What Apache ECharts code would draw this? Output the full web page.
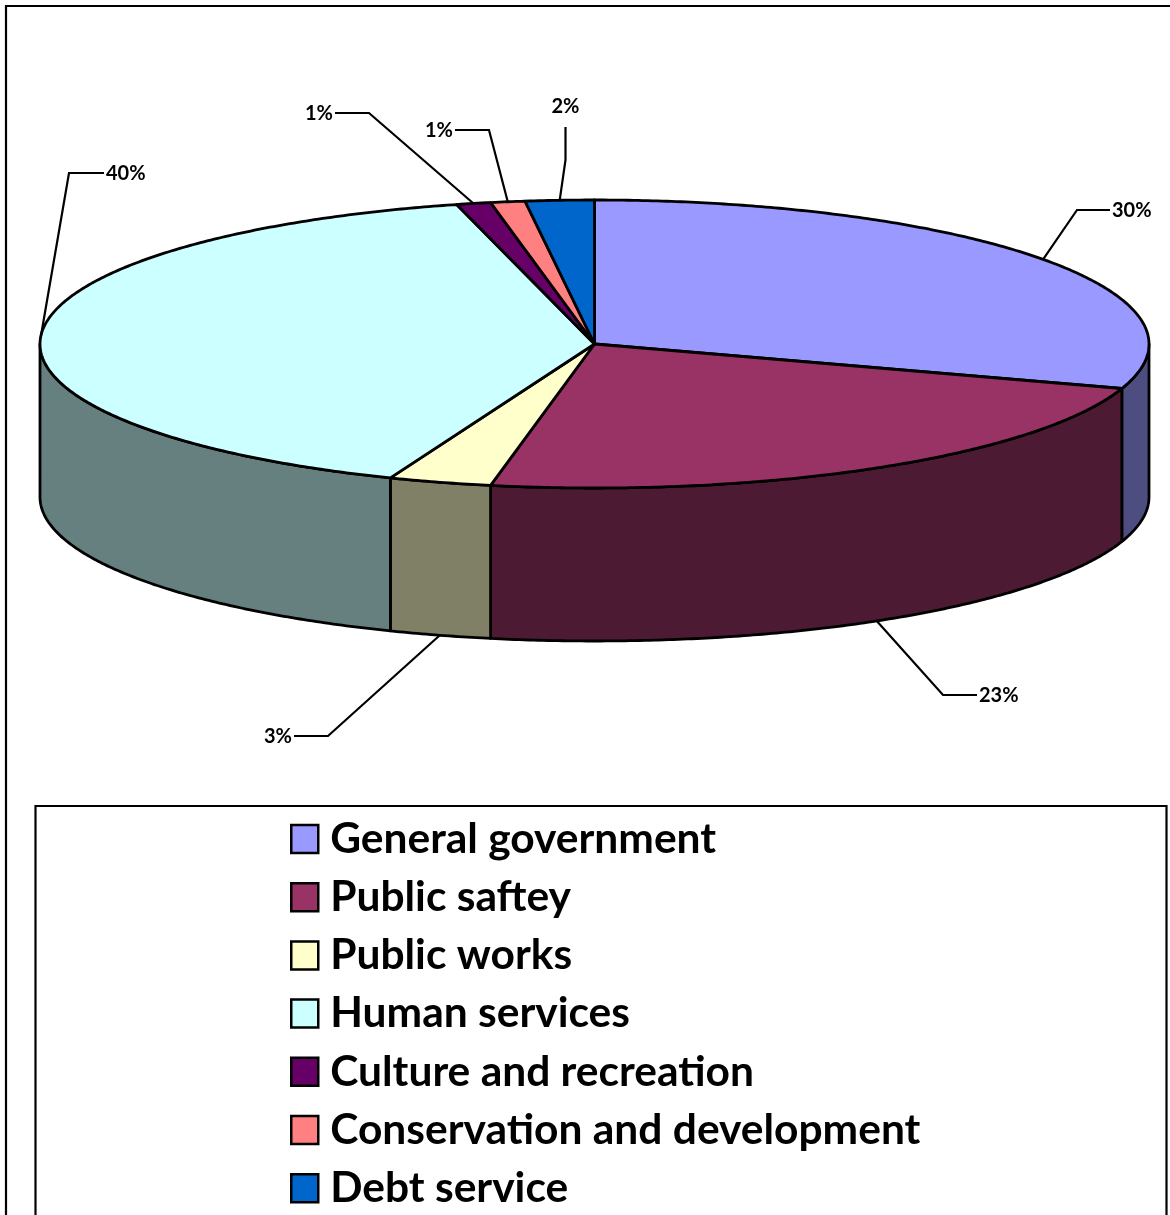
<!DOCTYPE html>
<html>
<head>
<meta charset="utf-8">
<style>html,body{margin:0;padding:0;background:#fff;overflow:hidden}#chart{width:1170px;height:1215px}</style>
<script src="https://cdn.jsdelivr.net/npm/echarts@6/dist/echarts.min.js"></script>
</head>
<body>
<div id="chart"></div>
<script>
// Expenditure shares by function, in percent
const categories = ['General government', 'Public saftey', 'Public works', 'Human services', 'Culture and recreation', 'Conservation and development', 'Debt service'];
const shares = [30, 23, 3, 40, 1, 1, 2];
const topColors = ['#9999FF', '#993366', '#FFFFCC', '#CCFFFF', '#660066', '#FF8080', '#0066CC'];
const wallColors = ['#4D4D80', '#4D1A33', '#808066', '#668080', '#330033', '#804040', '#003366'];

// Geometry of the tilted disc
const disc = { cx: 594.5, cy: 344, rx: 554.5, ry: 144, depth: 153 };

// Leader-line routing: elbow point, free end, and where each label sits
const leaderElbows = [[1077, 210], [943, 695], [328, 736], [69, 173], [369, 113], [489, 130], [565.5, 160]];
const leaderEnds = [[1110, 210], [977, 695], [294, 736], [104, 173], [335, 113], [455, 130], [565.5, 127]];
const labelAnchors = [[1112, 211, 'left'], [979, 696, 'left'], [292, 737, 'right'], [106, 174, 'left'], [333, 114, 'right'], [453, 131, 'right'], [565.5, 107, 'center']];

const labelFont = 'bold 20px Lato';
const outlineWidth = 2.8;

// Cumulative start of each slice, clockwise from twelve o'clock
const starts = shares.reduce((acc, v, i) => { acc.push(i === 0 ? 0 : acc[i - 1] + shares[i - 1]); return acc; }, []);

function rimPoint(deg, drop) {
  const a = deg * Math.PI / 180;
  return [disc.cx + disc.rx * Math.sin(a), disc.cy - disc.ry * Math.cos(a) + (drop || 0)];
}

function arcPoints(from, to, drop) {
  const pts = [];
  const n = Math.max(2, Math.ceil(Math.abs(to - from) / 0.5));
  for (let k = 0; k <= n; k++) pts.push(rimPoint(from + (to - from) * k / n, drop));
  return pts;
}

function renderSlice(index) {
  return function (params, api) {
    const a0 = api.value(1) * 3.6;
    const a1 = (api.value(1) + api.value(0)) * 3.6;
    const mid = (a0 + a1) / 2;
    const children = [];

    // Only the part of the rim on the near half of the disc shows a wall
    const w0 = Math.max(a0, 90);
    const w1 = Math.min(a1, 270);
    if (w1 > w0) {
      children.push({
        type: 'polygon',
        shape: { points: arcPoints(w0, w1, 0).concat(arcPoints(w1, w0, disc.depth)) },
        style: { fill: wallColors[index], stroke: '#000', lineWidth: outlineWidth, lineJoin: 'round' }
      });
    }

    children.push({
      type: 'polygon',
      shape: { points: [[disc.cx, disc.cy]].concat(arcPoints(a0, a1, 0)) },
      style: { fill: topColors[index], stroke: '#000', lineWidth: outlineWidth, lineJoin: 'round' }
    });

    const onNearSide = mid > 90 && mid < 270;
    const anchor = rimPoint(mid, onNearSide ? disc.depth : 0);
    children.push({
      type: 'polyline',
      shape: { points: [anchor, leaderElbows[index], leaderEnds[index]] },
      style: { fill: 'none', stroke: '#000', lineWidth: 2.2 }
    });

    const pos = labelAnchors[index];
    children.push({
      type: 'text',
      style: {
        text: api.value(0) + '%', x: pos[0], y: pos[1],
        textAlign: pos[2], textVerticalAlign: 'middle',
        font: labelFont, fill: '#000'
      }
    });
    return { type: 'group', children };
  };
}

const chart = echarts.init(document.getElementById('chart'), null, { renderer: 'canvas' });
chart.setOption({
  animation: false,
  backgroundColor: '#fff',
  graphic: [
    { type: 'rect', shape: { x: 6, y: 6, width: 1300, height: 1400 }, style: { fill: 'none', stroke: '#000', lineWidth: 2.2 }, silent: true, z: 0 },
    { type: 'rect', shape: { x: 35.5, y: 806, width: 1131, height: 600 }, style: { fill: 'none', stroke: '#000', lineWidth: 2.2 }, silent: true, z: 0 }
  ],
  legend: {
    orient: 'vertical',
    left: 290,
    top: 817.5,
    height: 600,
    padding: 0,
    itemWidth: 27,
    itemHeight: 28,
    itemGap: 15.2,
    selectedMode: false,
    icon: 'rect',
    itemStyle: { borderColor: '#000', borderWidth: 2.5 },
    textStyle: { fontFamily: 'Lato', fontWeight: 'bold', fontSize: 42.5, lineHeight: 30, color: '#000', padding: [0, 0, 0, 7] },
    data: categories
  },
  series: categories.map((name, i) => ({
    type: 'custom',
    name,
    coordinateSystem: 'none',
    silent: true,
    itemStyle: { color: topColors[i] },
    data: [[shares[i], starts[i]]],
    renderItem: renderSlice(i)
  }))
});
</script>
</body>
</html>
